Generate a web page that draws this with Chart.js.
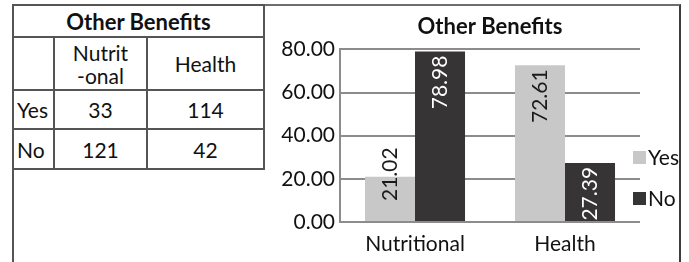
<!DOCTYPE html>
<html lang="en">
<head>
  <meta charset="UTF-8">
  <title>Other Benefits</title>
  <style>
    body {
      margin: 0;
      background: #fff;
      font-family: Lato, "Open Sans", sans-serif;
      color: #111;
    }
    .frame {
      position: absolute;
      left: 12px;
      top: 4px;
      width: 665px;
      height: 262px;
      border-top: 2px solid #6e6e6e;
      border-left: 2px solid #555;
      border-right: 2px solid #3c3c3c;
    }
    table {
      position: absolute;
      left: 12px;
      top: 4px;
      border-collapse: separate;
      border-spacing: 0;
      table-layout: fixed;
      width: 253px;
      border-top: 2px solid #555;
      border-left: 2px solid #555;
      font-size: 21px;
    }
    td {
      padding: 0;
      border-right: 2px solid #555;
      border-bottom: 2px solid #555;
      text-align: center;
      line-height: 23px;
    }
    td.title { font-weight: bold; font-size: 22px; height: 30px; }
    tr.head td { height: 51px; }
    tr.r0 td { height: 37px; }
    tr.r1 td { height: 38px; }
    td.rowlab { text-align: left; padding-left: 3px; }
    .chart-box {
      position: absolute;
      left: 267px;
      top: 6px;
      width: 412px;
      height: 256px;
    }
  </style>
  <script src="https://cdn.jsdelivr.net/npm/chart.js"></script>
</head>
<body>
  <div class="frame"></div>
  <table id="countTable">
    <colgroup>
      <col style="width:41px">
      <col style="width:93px">
      <col style="width:117px">
    </colgroup>
  </table>
  <div class="chart-box">
    <canvas id="benefitChart"></canvas>
  </div>

  <script>
    // chart data (percentages)
    const categories = ['Nutritional', 'Health'];
    const yesValues = [21.02, 72.61];
    const noValues = [78.98, 27.39];
    const yTickValues = [0, 20, 40, 60, 80];

    // table data (counts)
    const tableTitle = 'Other Benefits';
    const tableColumns = ['Nutrit\n-onal', 'Health'];
    const tableRows = ['Yes', 'No'];
    const yesCounts = [33, 114];
    const noCounts = [121, 42];

    // build the table
    const table = document.getElementById('countTable');
    let html = '<tr><td class="title" colspan="3">' + tableTitle + '</td></tr>';
    html += '<tr class="head"><td></td>';
    tableColumns.forEach(function(c) {
      html += '<td>' + c.replace('\n', '<br>') + '</td>';
    });
    html += '</tr>';
    [yesCounts, noCounts].forEach(function(counts, i) {
      html += '<tr class="r' + i + '"><td class="rowlab">' + tableRows[i] + '</td>';
      counts.forEach(function(v) { html += '<td>' + v + '</td>'; });
      html += '</tr>';
    });
    table.insertAdjacentHTML('beforeend', html);

    const FONT = 'Lato, "Open Sans", sans-serif';

    // rotated value labels inside the bars
    const barLabels = {
      id: 'barLabels',
      afterDatasetsDraw(chart) {
        const ctx = chart.ctx;
        ctx.save();
        ctx.font = '21px ' + FONT;
        chart.data.datasets.forEach(function(ds, di) {
          chart.getDatasetMeta(di).data.forEach(function(bar, i) {
            const text = ds.data[i].toFixed(2);
            const w = ctx.measureText(text).width;
            let end = bar.y + 4;
            let color = ds.labelColor;
            if (end + w > bar.base) {
              // too short: sit above the bar
              end = bar.base - 20 - w;
              color = '#1a1a1a';
            }
            ctx.save();
            ctx.translate(bar.x, end);
            ctx.rotate(-Math.PI / 2);
            ctx.fillStyle = color;
            ctx.textAlign = 'right';
            ctx.textBaseline = 'middle';
            ctx.fillText(text, 0, 0);
            ctx.restore();
          });
        });
        ctx.restore();
      }
    };

    // legend at the lower right of the plot
    const sideLegend = {
      id: 'sideLegend',
      afterDraw(chart) {
        const ctx = chart.ctx;
        const area = chart.chartArea;
        ctx.save();
        ctx.font = '21px ' + FONT;
        ctx.textBaseline = 'middle';
        const n = chart.data.datasets.length;
        chart.data.datasets.forEach(function(ds, di) {
          const cy = area.bottom - 24 - (n - 1 - di) * 41;
          const x = area.right - 7;
          ctx.fillStyle = ds.backgroundColor;
          ctx.fillRect(x, cy - 6, 13, 13);
          ctx.fillStyle = '#111';
          ctx.fillText(ds.label, x + 15, cy + 1);
        });
        ctx.restore();
      }
    };

    new Chart(document.getElementById('benefitChart'), {
      type: 'bar',
      data: {
        labels: categories,
        datasets: [
          { label: 'Yes', data: yesValues, backgroundColor: '#c8c8c8', labelColor: '#1a1a1a' },
          { label: 'No', data: noValues, backgroundColor: '#363435', labelColor: '#ffffff' }
        ]
      },
      options: {
        responsive: true,
        maintainAspectRatio: false,
        animation: false,
        layout: { padding: { left: 0, right: 39, top: 0, bottom: 0 } },
        datasets: {
          bar: { categoryPercentage: 0.667, barPercentage: 1.0 }
        },
        plugins: {
          legend: { display: false },
          tooltip: { enabled: false },
          title: {
            display: true,
            text: 'Other Benefits',
            fullSize: false,
            color: '#111',
            font: { family: FONT, size: 22, weight: 'bold' },
            padding: { top: 8, bottom: 9 }
          }
        },
        scales: {
          x: {
            grid: { display: false },
            border: { display: false },
            ticks: { color: '#111', font: { family: FONT, size: 21 }, padding: 2 },
            afterFit: function(scale) { scale.height = 40; }
          },
          y: {
            min: 0,
            max: 80,
            afterBuildTicks: function(scale) {
              scale.ticks = yTickValues.map(function(v) { return { value: v }; });
            },
            grid: { color: '#8c8c8c', lineWidth: 2, drawTicks: false },
            border: { display: true, color: '#8c8c8c', width: 2 },
            ticks: {
              color: '#111',
              font: { family: FONT, size: 21 },
              padding: 5,
              callback: function(v) { return Number(v).toFixed(2); }
            },
            afterFit: function(scale) { scale.width = 73; }
          }
        }
      },
      plugins: [barLabels, sideLegend]
    });
  </script>
</body>
</html>
